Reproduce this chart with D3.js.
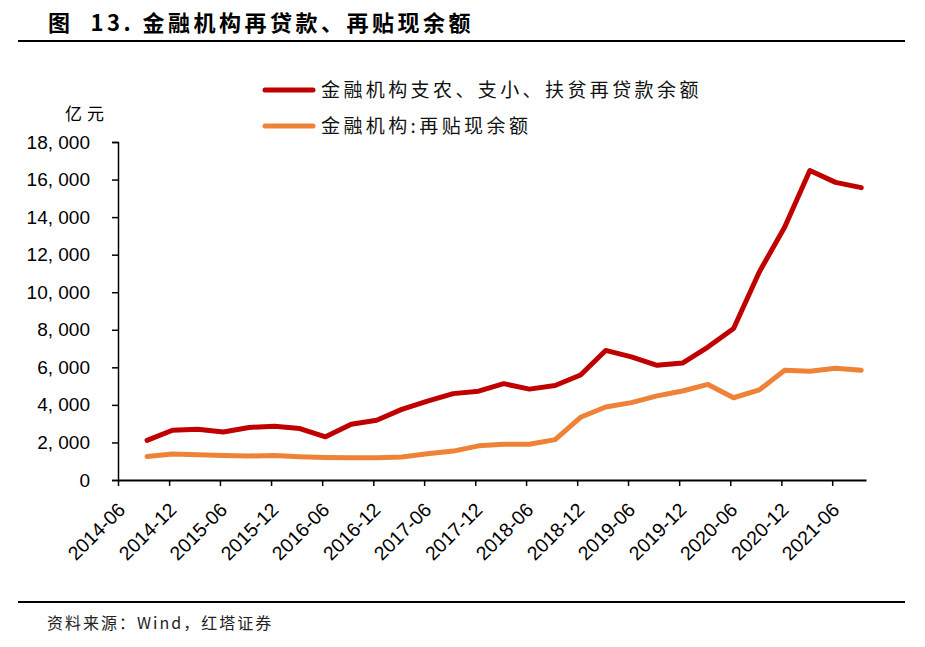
<!DOCTYPE html>
<html lang="zh">
<head>
<meta charset="UTF-8">
<title>金融机构再贷款、再贴现余额</title>
<script src="https://cdn.jsdelivr.net/npm/d3@7/dist/d3.min.js"></script>
<style>
  body { margin: 0; background: #fff; }
  svg { display: block; }
  .cjk { font-family: "Noto Sans CJK SC", sans-serif; }
  .num { font-family: Arial, "Liberation Sans", sans-serif; }
</style>
</head>
<body>
<svg id="chart" width="925" height="647"></svg>
<script>
// quarterly balances, 亿元
const quarters = ["2014-09","2014-12","2015-03","2015-06","2015-09","2015-12","2016-03","2016-06",
  "2016-09","2016-12","2017-03","2017-06","2017-09","2017-12","2018-03","2018-06","2018-09","2018-12",
  "2019-03","2019-06","2019-09","2019-12","2020-03","2020-06","2020-09","2020-12","2021-03","2021-06","2021-09"];
const relending = [2110, 2650, 2700, 2560, 2800, 2860, 2740, 2300,
  2970, 3180, 3760, 4200, 4600, 4730, 5130, 4840, 5030, 5590,
  6900, 6560, 6110, 6230, 7080, 8070, 11080, 13470, 16480, 15850, 15570];
const rediscount = [1250, 1380, 1340, 1300, 1280, 1300, 1240, 1200,
  1180, 1190, 1230, 1400, 1540, 1820, 1900, 1900, 2150, 3340,
  3890, 4120, 4480, 4740, 5090, 4380, 4800, 5840, 5790, 5950, 5850];
const xTickLabels = ["2014-06","2014-12","2015-06","2015-12","2016-06","2016-12","2017-06","2017-12",
  "2018-06","2018-12","2019-06","2019-12","2020-06","2020-12","2021-06"];
const yTicks = [0, 2000, 4000, 6000, 8000, 10000, 12000, 14000, 16000, 18000];
const seriesNames = ["金融机构支农、支小、扶贫再贷款余额", "金融机构:再贴现余额"];
const colors = ["#c00000", "#ee8236"];

const svg = d3.select("#chart");

// title + rules
svg.append("text").attr("class", "cjk").attr("x", 48).attr("y", 31)
  .attr("font-size", 22).attr("font-weight", "bold").attr("letter-spacing", 3.5).attr("fill", "#000")
  .style("white-space", "pre")
  .text("图  13. 金融机构再贷款、再贴现余额");
svg.append("line").attr("x1", 18).attr("x2", 905).attr("y1", 41).attr("y2", 41)
  .attr("stroke", "#000").attr("stroke-width", 2);
svg.append("line").attr("x1", 18).attr("x2", 905).attr("y1", 602).attr("y2", 602)
  .attr("stroke", "#000").attr("stroke-width", 2);
svg.append("text").attr("class", "cjk").attr("x", 47).attr("y", 629)
  .attr("font-size", 16).attr("letter-spacing", 2).attr("fill", "#222")
  .text("资料来源：Wind，红塔证券");

const parseQ = s => { const p = s.split("-"); return new Date(+p[0], +p[1] - 1, 13); };
const parseT = s => { const p = s.split("-"); return new Date(+p[0], +p[1] - 1, 1); };

const x = d3.scaleTime()
  .domain([new Date(2014, 5, 1), new Date(2021, 8, 30)])
  .range([118, 866]);
const y = d3.scaleLinear().domain([0, 18000]).range([480, 142]);

const fmt = d => d3.format(",")(d).replace(",", ", ");

// y axis
const gy = svg.append("g").attr("transform", "translate(118,0)")
  .call(d3.axisLeft(y).tickValues(yTicks).tickFormat(fmt).tickSize(6).tickPadding(22));
gy.select(".domain").attr("stroke", "#000").attr("stroke-width", 1.5);
gy.selectAll(".tick line").attr("stroke", "#000").attr("stroke-width", 1.5);
gy.selectAll(".tick text").attr("class", "num").attr("font-size", 19).attr("fill", "#000");

svg.append("text").attr("class", "cjk").attr("x", 65).attr("y", 120)
  .attr("font-size", 17).attr("fill", "#000").attr("letter-spacing", 5).text("亿元");

// x axis
const gx = svg.append("g").attr("transform", "translate(0,480)")
  .call(d3.axisBottom(x).tickValues(xTickLabels.map(parseT))
    .tickFormat((d, i) => xTickLabels[i]).tickSize(6).tickSizeOuter(0));
gx.select(".domain").attr("stroke", "#000").attr("stroke-width", 2);
gx.selectAll(".tick line").attr("stroke", "#000").attr("stroke-width", 1.5);
gx.selectAll(".tick text").attr("class", "num").attr("font-size", 19.5).attr("fill", "#000")
  .attr("text-anchor", "end").attr("dy", 0).attr("y", 0)
  .attr("transform", "translate(8,31) rotate(-45)");

// lines
const line = d3.line().x((d, i) => x(parseQ(quarters[i]))).y(d => y(d));
[relending, rediscount].forEach((vals, k) => {
  svg.append("path").datum(vals).attr("d", line)
    .attr("fill", "none").attr("stroke", colors[k]).attr("stroke-width", 5)
    .attr("stroke-linejoin", "round").attr("stroke-linecap", "round");
});

// legend
const leg = svg.append("g");
seriesNames.forEach((name, k) => {
  const ly = 90 + k * 36;
  leg.append("line").attr("x1", 265).attr("x2", 313).attr("y1", ly).attr("y2", ly)
    .attr("stroke", colors[k]).attr("stroke-width", 5).attr("stroke-linecap", "round");
  leg.append("text").attr("class", "cjk").attr("x", 321).attr("y", ly + 7)
    .attr("font-size", 19).attr("letter-spacing", 3.4).attr("fill", "#111").text(name);
});
</script>
</body>
</html>
